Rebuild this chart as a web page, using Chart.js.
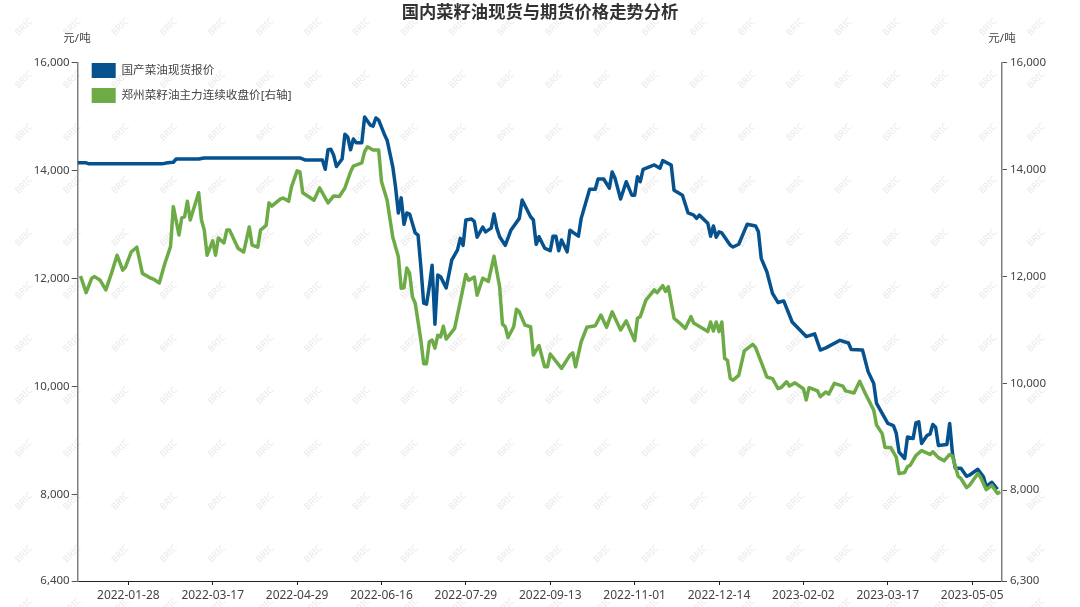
<!DOCTYPE html>
<html lang="zh">
<head>
<meta charset="utf-8">
<title>国内菜籽油现货与期货价格走势分析</title>
<script src="https://cdn.jsdelivr.net/npm/chart.js@4/dist/chart.umd.min.js"></script>
<style>
  html, body { margin: 0; padding: 0; background: #fff; }
  canvas { display: block; }
</style>
</head>
<body>
<canvas id="chart" width="1080" height="607"></canvas>
<script>
// x position of every point is its trading day, counted from 2022-01-04
const tickDays = [18, 48, 78, 108, 138, 168, 198, 228, 258, 288, 318];
const tickDates = ["2022-01-28", "2022-03-17", "2022-04-29", "2022-06-16", "2022-07-29", "2022-09-13",
  "2022-11-01", "2022-12-14", "2023-02-02", "2023-03-17", "2023-05-05"];
const leftTicks = [6400, 8000, 10000, 12000, 14000, 16000];
const rightTicks = [6300, 8000, 10000, 12000, 14000, 16000];

const spotDays = [0, 3, 4, 30, 32, 34, 35, 43, 45, 79, 81, 87, 88, 89, 90, 91, 92, 94, 95, 96, 97, 98, 99, 101, 102, 104, 105, 106, 107, 109,
  110, 112, 113, 114, 115, 116, 117, 118, 120, 121, 122, 123, 124, 125, 126, 127, 128, 129, 131, 133, 135, 136, 137, 138, 140, 141, 142, 144, 145, 147,
  148, 149, 150, 152, 154, 157, 158, 161, 162, 163, 164, 166, 168, 169, 170, 171, 172, 174, 175, 178, 179, 182, 184, 185, 187, 189, 190, 191, 193, 195,
  197, 198, 199, 200, 201, 205, 207, 208, 211, 212, 215, 217, 219, 220, 221, 224, 225, 226, 227, 228, 229, 232, 233, 235, 238, 241, 242, 243, 245, 247,
  249, 251, 254, 259, 262, 264, 266, 271, 274, 275, 279, 281, 283, 284, 288, 290, 291, 292, 294, 295, 297, 298, 299, 300, 302, 303, 304, 305, 306, 309,
  310, 311, 312, 314, 316, 317, 320, 322, 323, 325, 327];
const spotPrices = [14150, 14150, 14130, 14130, 14150, 14160, 14220, 14220, 14240, 14240, 14200, 14200, 14030, 14390, 14400, 14290, 14080, 14220, 14680, 14630, 14390, 14590, 14520, 14520, 15000, 14850, 14830, 14980, 14940, 14680,
  14570, 14080, 13700, 13220, 13500, 13010, 13220, 13200, 12850, 12810, 12220, 11550, 11530, 11850, 12250, 11160, 12070, 12040, 11830, 12350, 12530, 12750, 12620, 13090, 13110, 13060, 12770, 12960, 12870, 12940,
  13200, 12940, 12780, 12620, 12900, 13120, 13460, 13150, 13090, 12640, 12780, 12570, 12520, 12790, 12790, 12520, 12720, 12500, 12900, 12790, 13120, 13660, 13660, 13850, 13850, 13680, 13980, 13870, 13480, 13800,
  13550, 13550, 13890, 13800, 14030, 14110, 14050, 14190, 14110, 13640, 13550, 13220, 13180, 13120, 13180, 13030, 12790, 12980, 12770, 12870, 12850, 12620, 12590, 12640, 13010, 12980, 12870, 12380, 12130, 11730,
  11560, 11590, 11200, 10930, 10980, 10680, 10720, 10860, 10810, 10690, 10680, 10280, 10060, 9690, 9320, 9280, 9140, 8790, 8670, 9070, 9040, 9330, 9350, 8950, 9100, 9120, 9300, 9250, 8910, 8930,
  9320, 8760, 8490, 8490, 8340, 8360, 8470, 8330, 8150, 8230, 8100];

const futuresDays = [1, 3, 5, 6, 8, 10, 12, 14, 16, 17, 19, 21, 23, 26, 27, 29, 31, 33, 34, 36, 37, 38, 39, 40, 43, 44, 45, 46, 48, 49,
  50, 52, 53, 54, 57, 59, 61, 62, 64, 65, 67, 68, 69, 72, 73, 75, 76, 78, 79, 80, 84, 86, 89, 91, 93, 95, 97, 98, 101, 102,
  103, 105, 107, 108, 110, 112, 114, 115, 116, 117, 118, 119, 120, 122, 123, 124, 125, 126, 127, 128, 129, 130, 131, 134, 136, 138, 139, 141, 142, 144,
  146, 148, 150, 151, 152, 153, 155, 156, 157, 159, 161, 162, 164, 166, 167, 168, 172, 175, 176, 177, 179, 181, 184, 186, 188, 190, 193, 195, 198, 199,
  200, 202, 205, 206, 208, 209, 210, 212, 214, 216, 218, 219, 224, 225, 226, 227, 228, 229, 230, 231, 232, 233, 235, 237, 240, 241, 243, 245, 247, 249,
  250, 252, 253, 255, 258, 259, 260, 263, 264, 266, 267, 269, 272, 273, 276, 278, 280, 283, 284, 286, 287, 289, 291, 292, 294, 295, 296, 298, 300, 303,
  304, 306, 308, 310, 311, 313, 314, 316, 317, 320, 321, 323, 325, 327, 328];
const futuresPrices = [12010, 11700, 11970, 12000, 11930, 11750, 12060, 12400, 12120, 12180, 12460, 12550, 12060, 11970, 11950, 11880, 12250, 12560, 13310, 12780, 13100, 13120, 13410, 13060, 13570, 13060, 12870, 12400, 12670, 12400,
  12720, 12630, 12870, 12870, 12530, 12460, 12930, 12590, 12550, 12870, 12960, 13380, 13320, 13450, 13470, 13410, 13680, 13980, 13960, 13570, 13430, 13660, 13380, 13510, 13500, 13660, 13960, 14070, 14130, 14340,
  14430, 14370, 14370, 13780, 13430, 12740, 12370, 11780, 11790, 12160, 12060, 11620, 11500, 10810, 10370, 10370, 10780, 10810, 10660, 10900, 10870, 11070, 10830, 11030, 11530, 12040, 11930, 11990, 11650, 11970,
  11910, 12380, 11810, 11110, 11060, 10860, 11060, 11390, 11340, 11090, 11060, 10530, 10710, 10310, 10310, 10550, 10280, 10530, 10570, 10310, 10780, 11050, 11080, 11280, 11050, 11340, 11000, 11170, 10800, 11220,
  11250, 11560, 11750, 11700, 11830, 11720, 11810, 11220, 11130, 11030, 11250, 11130, 10970, 11150, 10980, 11150, 10970, 11150, 10470, 10430, 10090, 10060, 10150, 10610, 10730, 10670, 10400, 10120, 10090, 9900,
  9920, 10030, 9950, 10010, 9900, 9690, 9920, 9860, 9750, 9840, 9800, 10000, 9950, 9860, 9820, 10040, 9810, 9500, 9220, 9060, 8800, 8800, 8620, 8310, 8330, 8440, 8470, 8650, 8740, 8670,
  8720, 8610, 8550, 8670, 8640, 8260, 8220, 8050, 8090, 8310, 8240, 8010, 8090, 7940, 7970];

const textColor = "#444";
const fontFamily = '"Noto Sans", "Noto Sans CJK SC", sans-serif';

function fixedWidth(width) {
  return (scale) => { scale.width = width; };
}

// Faint BRIC stamp repeated over the whole picture
const watermark = {
  id: "watermark",
  beforeDraw(chart) {
    const ctx = chart.ctx;
    ctx.save();
    ctx.fillStyle = "#e8e8e8";
    ctx.font = '9px "Noto Sans", sans-serif';
    ctx.textAlign = "center";
    ctx.textBaseline = "middle";
    for (let y = 27; y < 607; y += 52.7) {
      for (let x = 24; x < 1080; x += 48.2) {
        ctx.save();
        ctx.translate(x, y);
        ctx.rotate(-Math.PI / 4);
        ctx.fillText("BRIC", 0, 0);
        ctx.restore();
      }
    }
    ctx.restore();
  },
};

const unitLabels = {
  id: "unitLabels",
  afterLayout(chart) {
    // legend sits inside the plot, tight against its top edge
    chart.legend.left = chart.chartArea.left + 4;
    chart.legend.top = chart.chartArea.top - 10;
  },
  afterDraw(chart) {
    const ctx = chart.ctx;
    ctx.save();
    ctx.fillStyle = textColor;
    ctx.font = "11.5px " + fontFamily;
    ctx.textAlign = "center";
    ctx.textBaseline = "middle";
    ctx.fillText("元/吨", 77, 39);
    ctx.fillText("元/吨", 1002, 39);
    ctx.restore();
  },
};

new Chart(document.getElementById("chart"), {
  type: "line",
  data: {
    datasets: [
      {
        label: "国产菜油现货报价",
        data: spotDays.map((d, i) => ({ x: d, y: spotPrices[i] })),
        yAxisID: "y",
        borderColor: "#06528f",
        backgroundColor: "#06528f",
        borderWidth: 3.5,
        borderJoinStyle: "round",
        pointRadius: 0,
        order: 2,
      },
      {
        label: "郑州菜籽油主力连续收盘价[右轴]",
        data: futuresDays.map((d, i) => ({ x: d, y: futuresPrices[i] })),
        yAxisID: "y1",
        borderColor: "#6cab45",
        backgroundColor: "#6cab45",
        borderWidth: 3.5,
        borderJoinStyle: "round",
        pointRadius: 0,
        order: 1,
      },
    ],
  },
  options: {
    responsive: false,
    animation: false,
    devicePixelRatio: 1,
    events: [],
    layout: { padding: 0 },
    plugins: {
      tooltip: { enabled: false },
      title: {
        display: true,
        text: "国内菜籽油现货与期货价格走势分析",
        color: "#333",
        font: { family: '"Noto Sans CJK SC", sans-serif', size: 17.3, weight: "bold", lineHeight: 1.2 },
        padding: { top: 1.2, bottom: 41 },
      },
      legend: {
        position: "chartArea",
        align: "start",
        labels: {
          boxWidth: 24,
          boxHeight: 15,
          padding: 10,
          color: textColor,
          font: { family: fontFamily, size: 11.6 },
          sort: (a, b) => a.datasetIndex - b.datasetIndex,
          // plain swatches, without the dataset's thick line around them
          generateLabels: (chart) => Chart.defaults.plugins.legend.labels.generateLabels(chart)
            .map((item) => ({ ...item, lineWidth: 0 })),
        },
      },
    },
    scales: {
      x: {
        type: "linear",
        min: 0,
        max: 328.6,
        afterBuildTicks: (scale) => { scale.ticks = tickDays.map((value) => ({ value })); },
        afterFit: (scale) => { scale.height = 26; },
        grid: { drawOnChartArea: false, drawTicks: true, tickLength: 4, color: "#222" },
        border: { color: "#222", width: 1 },
        ticks: {
          autoSkip: false,
          maxRotation: 0,
          padding: 3,
          color: textColor,
          font: { family: fontFamily, size: 12 },
          callback: (value) => tickDates[tickDays.indexOf(value)],
        },
      },
      y: {
        position: "left",
        min: 6400,
        max: 16000,
        afterBuildTicks: (scale) => { scale.ticks = leftTicks.map((value) => ({ value })); },
        afterFit: fixedWidth(77.7),
        grid: { drawOnChartArea: false, drawTicks: true, tickLength: 6, color: "#555" },
        border: { color: "#808080", width: 1.5 },
        ticks: {
          padding: 2,
          color: textColor,
          font: { family: fontFamily, size: 11.5 },
          callback: (value) => value.toLocaleString("en-US"),
        },
      },
      y1: {
        position: "right",
        min: 6300,
        max: 16000,
        afterBuildTicks: (scale) => { scale.ticks = rightTicks.map((value) => ({ value })); },
        afterFit: fixedWidth(78),
        grid: { drawOnChartArea: false, drawTicks: true, tickLength: 5, color: "#555" },
        border: { color: "#808080", width: 1.5 },
        ticks: {
          padding: 3,
          color: textColor,
          font: { family: fontFamily, size: 11.5 },
          callback: (value) => value.toLocaleString("en-US"),
        },
      },
    },
  },
  plugins: [watermark, unitLabels],
});
</script>
</body>
</html>
